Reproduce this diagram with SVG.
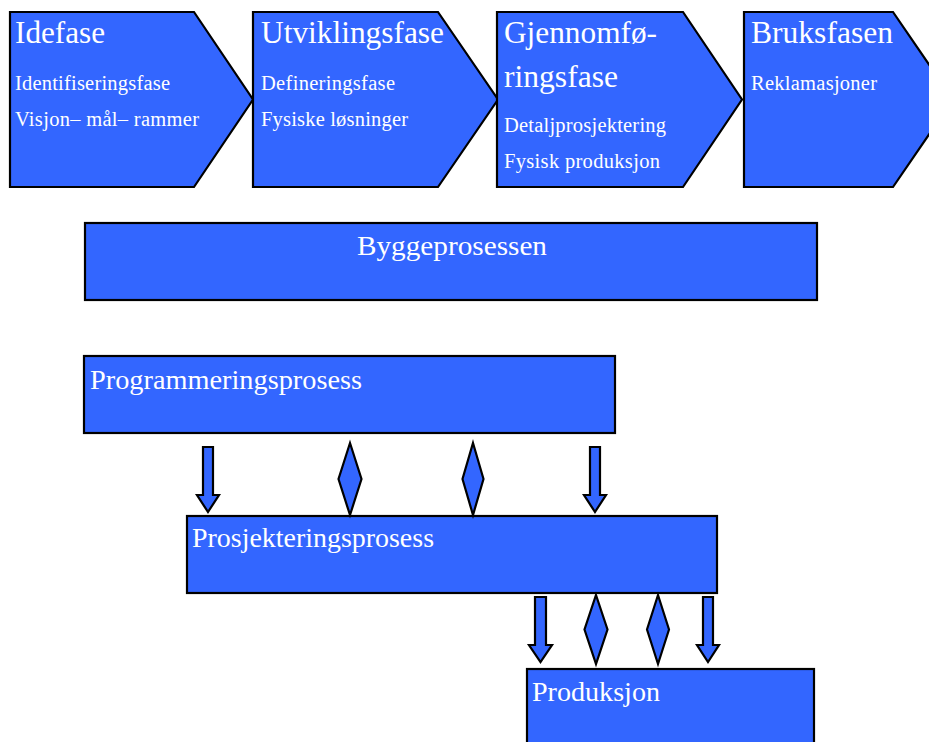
<svg xmlns="http://www.w3.org/2000/svg" width="929" height="742" viewBox="0 0 929 742">
  <style>
    .shape { fill: #3366ff; stroke: #000000; stroke-width: 2.2; stroke-linejoin: miter; }
    .title { font-family: "Liberation Serif", "Times New Roman", serif; font-size: 31px; fill: #ffffff; }
    .sub { font-family: "Liberation Serif", "Times New Roman", serif; font-size: 20.5px; fill: #ffffff; }
    .proc { font-family: "Liberation Serif", "Times New Roman", serif; font-size: 28px; fill: #ffffff; }
  </style>
  <rect width="929" height="742" fill="#ffffff"/>

  <!-- Phase chevrons -->
  <g id="idefase">
    <polygon class="shape" points="10,12 194,12 253,99.5 194,187 10,187"/>
    <text class="title" x="15" y="43" textLength="90" lengthAdjust="spacingAndGlyphs">Idefase</text>
    <text class="sub" x="15" y="90" textLength="155" lengthAdjust="spacing">Identifiseringsfase</text>
    <text class="sub" x="15" y="126" textLength="184" lengthAdjust="spacing">Visjon– mål– rammer</text>
  </g>
  <g id="utviklingsfase">
    <polygon class="shape" points="253,12 438,12 498,99.5 438,187 253,187"/>
    <text class="title" x="261" y="43" textLength="183" lengthAdjust="spacingAndGlyphs">Utviklingsfase</text>
    <text class="sub" x="261" y="90" textLength="134" lengthAdjust="spacing">Defineringsfase</text>
    <text class="sub" x="261" y="126" textLength="147" lengthAdjust="spacing">Fysiske løsninger</text>
  </g>
  <g id="gjennomforingsfase">
    <polygon class="shape" points="497,12 683,12 742,99.5 683,187 497,187"/>
    <text class="title" x="504" y="43" textLength="153" lengthAdjust="spacingAndGlyphs">Gjennomfø-</text>
    <text class="title" x="504" y="87" textLength="114" lengthAdjust="spacingAndGlyphs">ringsfase</text>
    <text class="sub" x="504" y="132" textLength="162" lengthAdjust="spacing">Detaljprosjektering</text>
    <text class="sub" x="504" y="168" textLength="156" lengthAdjust="spacing">Fysisk produksjon</text>
  </g>
  <g id="bruksfasen">
    <polygon class="shape" points="744,12 893,12 953,99.5 893,187 744,187"/>
    <text class="title" x="751" y="43" textLength="142" lengthAdjust="spacingAndGlyphs">Bruksfasen</text>
    <text class="sub" x="751" y="90" textLength="126" lengthAdjust="spacing">Reklamasjoner</text>
  </g>

  <!-- Process boxes -->
  <g id="byggeprosessen">
    <rect class="shape" x="85" y="223" width="732" height="77"/>
    <text class="proc" x="452" y="255" text-anchor="middle" font-size="29" textLength="190" lengthAdjust="spacingAndGlyphs">Byggeprosessen</text>
  </g>
  <g id="programmeringsprosess">
    <rect class="shape" x="84" y="356" width="531" height="77"/>
    <text class="proc" x="90" y="389" textLength="272" lengthAdjust="spacingAndGlyphs">Programmeringsprosess</text>
  </g>
  <g id="prosjekteringsprosess">
    <rect class="shape" x="187" y="516" width="530" height="77"/>
    <text class="proc" x="192" y="547" textLength="242" lengthAdjust="spacingAndGlyphs">Prosjekteringsprosess</text>
  </g>
  <g id="produksjon">
    <rect class="shape" x="527" y="669" width="287" height="90"/>
    <text class="proc" x="532" y="701" textLength="128" lengthAdjust="spacingAndGlyphs">Produksjon</text>
  </g>

  <!-- Connectors: block arrows and diamonds between processes -->
  <g id="connectors">
    <polygon class="shape" points="203,447 213,447 213,495 219,495 208,512 197,495 203,495"/>
    <polygon class="shape" points="350,443 361.5,479 350,515 338.5,479"/>
    <polygon class="shape" points="473,443 483.5,479 473,515 462.5,479"/>
    <polygon class="shape" points="590,447 600,447 600,495 606,495 595,512 584,495 590,495"/>

    <polygon class="shape" points="535,597 546,597 546,645 552,645 540.5,662 529,645 535,645"/>
    <polygon class="shape" points="596,595 607.5,629.5 596,664 584.5,629.5"/>
    <polygon class="shape" points="658,595 669,629.5 658,664 647,629.5"/>
    <polygon class="shape" points="703,597 713,597 713,645 719,645 708,662 697,645 703,645"/>
  </g>
</svg>
